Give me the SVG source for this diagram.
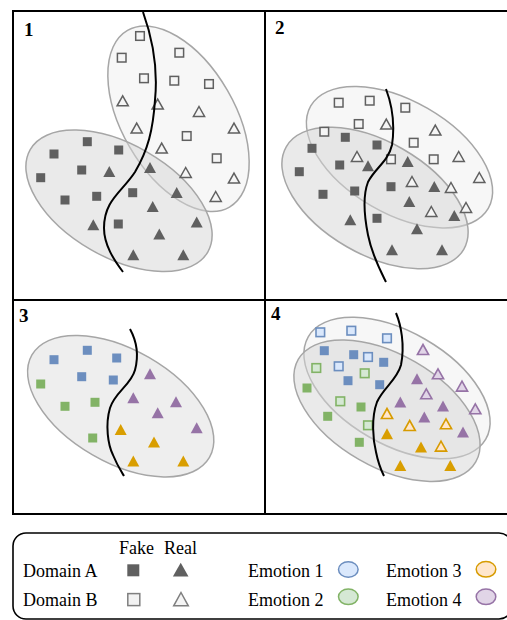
<svg xmlns="http://www.w3.org/2000/svg" xmlns:xlink="http://www.w3.org/1999/xlink" width="507" height="620" viewBox="0 0 507 620">
  <style>
    .frame { fill: none; stroke: #000; stroke-width: 2; }
    .cloudB { fill: #f7f7f7; stroke: #a6a6a6; stroke-width: 1.5; }
    .cloudA { fill: #d6d6d6; fill-opacity: 0.5; stroke: #a6a6a6; stroke-width: 1.5; }
    .cloud { fill: #eeeeee; stroke: #a6a6a6; stroke-width: 1.5; }
    .split { fill: none; stroke: #000; stroke-width: 2; }
    .lbl { font-family: "Liberation Serif", "Times New Roman", serif; font-size: 19px; font-weight: bold; fill: #000; }
    .txt { font-family: "Liberation Serif", "Times New Roman", serif; font-size: 18px; fill: #000; }
    .fA { fill: #606060; }
    .oB { fill: #f5f5f5; stroke: #606060; stroke-width: 1.5; }
    .f1 { fill: #6c8ebf; }
    .f2 { fill: #82b366; }
    .f3 { fill: #d99e00; }
    .f4 { fill: #9673a6; }
    .o1 { fill: #dae8fc; stroke: #6c8ebf; stroke-width: 1.6; }
    .o2 { fill: #d5e8d4; stroke: #82b366; stroke-width: 1.6; }
    .o3 { fill: #ffe6cc; stroke: #d79b00; stroke-width: 1.6; }
    .o4 { fill: #e1d5e7; stroke: #9673a6; stroke-width: 1.6; }
  </style>
  <defs>
    <rect id="sq" x="-4.5" y="-4.5" width="9" height="9"/>
    <rect id="osq" x="-4.3" y="-4.3" width="8.6" height="8.6"/>
    <path id="tri" d="M0,-5.8 L6,5.3 L-6,5.3 Z"/>
    <path id="otri" d="M0,-5.2 L5.6,4.8 L-5.6,4.8 Z"/>
  </defs>

  <rect width="507" height="620" fill="#fff"/>

  <!-- panel frames -->
  <g id="frames">
    <rect class="frame" x="13" y="11" width="497" height="503"/>
    <line class="frame" x1="265" y1="11" x2="265" y2="514"/>
    <line class="frame" x1="13" y1="300" x2="510" y2="300"/>
  </g>

  <!-- panel 1: two separated domains -->
  <g id="panel1">
    <text class="lbl" x="24" y="36">1</text>
    <ellipse class="cloudB" cx="178.5" cy="118.7" rx="102" ry="56.5" transform="rotate(60 178.5 118.7)"/>
    <ellipse class="cloudA" cx="119" cy="200.8" rx="102.5" ry="56.3" transform="rotate(30 119 200.8)"/>
    <g class="oB">
      <use xlink:href="#osq" x="140" y="36"/>
      <use xlink:href="#osq" x="121.7" y="57.7"/>
      <use xlink:href="#osq" x="179.3" y="52.7"/>
      <use xlink:href="#osq" x="144" y="78.3"/>
      <use xlink:href="#osq" x="174.3" y="80.7"/>
      <use xlink:href="#osq" x="209" y="84"/>
      <use xlink:href="#osq" x="186.7" y="136"/>
      <use xlink:href="#osq" x="216.7" y="158.3"/>
      <use xlink:href="#otri" x="122.7" y="101"/>
      <use xlink:href="#otri" x="157.7" y="104.3"/>
      <use xlink:href="#otri" x="199" y="111.7"/>
      <use xlink:href="#otri" x="234" y="128.3"/>
      <use xlink:href="#otri" x="136.7" y="128.3"/>
      <use xlink:href="#otri" x="161.7" y="148.3"/>
      <use xlink:href="#otri" x="185.7" y="172.7"/>
      <use xlink:href="#otri" x="234" y="178.3"/>
      <use xlink:href="#otri" x="215.7" y="196.7"/>
    </g>
    <g class="fA">
      <use xlink:href="#sq" x="87.3" y="141.7"/>
      <use xlink:href="#sq" x="54" y="154"/>
      <use xlink:href="#sq" x="118.7" y="150"/>
      <use xlink:href="#sq" x="81.7" y="170"/>
      <use xlink:href="#sq" x="40.7" y="177.7"/>
      <use xlink:href="#sq" x="65" y="200"/>
      <use xlink:href="#sq" x="96.7" y="196.3"/>
      <use xlink:href="#sq" x="132.7" y="192.7"/>
      <use xlink:href="#sq" x="118.3" y="224"/>
      <use xlink:href="#tri" x="109.3" y="171.7"/>
      <use xlink:href="#tri" x="150" y="167.7"/>
      <use xlink:href="#tri" x="176.7" y="192.7"/>
      <use xlink:href="#tri" x="152.7" y="206.7"/>
      <use xlink:href="#tri" x="196.7" y="222.3"/>
      <use xlink:href="#tri" x="93.3" y="225"/>
      <use xlink:href="#tri" x="159.3" y="234.3"/>
      <use xlink:href="#tri" x="133.3" y="255"/>
      <use xlink:href="#tri" x="183.3" y="255"/>
    </g>
  </g>

  <!-- panel 2: domains overlapping -->
  <g id="panel2">
    <text class="lbl" x="275" y="34">2</text>
    <ellipse class="cloudB" cx="399.5" cy="157.2" rx="102.5" ry="56.3" transform="rotate(30 399.5 157.2)"/>
    <ellipse class="cloudA" cx="375" cy="198" rx="102.5" ry="56.3" transform="rotate(30 375 198)"/>
    <g class="oB">
      <use xlink:href="#osq" x="338.7" y="102.7"/>
      <use xlink:href="#osq" x="369.7" y="100.7"/>
      <use xlink:href="#osq" x="405.3" y="107.7"/>
      <use xlink:href="#osq" x="358.7" y="124"/>
      <use xlink:href="#osq" x="324.3" y="131.7"/>
      <use xlink:href="#osq" x="413.7" y="142.7"/>
      <use xlink:href="#osq" x="391" y="159.3"/>
      <use xlink:href="#osq" x="433.7" y="159.3"/>
      <use xlink:href="#otri" x="386.3" y="124.3"/>
      <use xlink:href="#otri" x="435.3" y="130.3"/>
      <use xlink:href="#otri" x="357" y="156.7"/>
      <use xlink:href="#otri" x="458.7" y="156.7"/>
      <use xlink:href="#otri" x="412" y="181.7"/>
      <use xlink:href="#otri" x="451" y="187.7"/>
      <use xlink:href="#otri" x="479.3" y="177.7"/>
      <use xlink:href="#otri" x="431.3" y="211.7"/>
      <use xlink:href="#otri" x="466" y="207.7"/>
    </g>
    <g class="fA">
      <use xlink:href="#sq" x="345.3" y="137.3"/>
      <use xlink:href="#sq" x="312" y="148.3"/>
      <use xlink:href="#sq" x="377" y="145"/>
      <use xlink:href="#sq" x="339.7" y="165"/>
      <use xlink:href="#sq" x="299.3" y="171.7"/>
      <use xlink:href="#sq" x="323" y="194.3"/>
      <use xlink:href="#sq" x="354.7" y="191"/>
      <use xlink:href="#sq" x="391" y="186.7"/>
      <use xlink:href="#sq" x="377" y="218.3"/>
      <use xlink:href="#tri" x="368" y="166"/>
      <use xlink:href="#tri" x="407.7" y="161.7"/>
      <use xlink:href="#tri" x="434.3" y="186.7"/>
      <use xlink:href="#tri" x="409.3" y="201.7"/>
      <use xlink:href="#tri" x="454.3" y="215.7"/>
      <use xlink:href="#tri" x="350.3" y="220"/>
      <use xlink:href="#tri" x="417" y="229"/>
      <use xlink:href="#tri" x="392" y="250"/>
      <use xlink:href="#tri" x="442" y="250"/>
    </g>
  </g>

  <!-- panel 3: single domain, emotions -->
  <g id="panel3">
    <text class="lbl" x="19" y="322">3</text>
    <ellipse class="cloud" cx="120.7" cy="406.2" rx="102.5" ry="56.3" transform="rotate(30 120.7 406.2)"/>
    <g class="f1">
      <use xlink:href="#sq" x="54" y="359.7"/>
      <use xlink:href="#sq" x="87.3" y="350.3"/>
      <use xlink:href="#sq" x="116.7" y="358"/>
      <use xlink:href="#sq" x="81.7" y="376.7"/>
      <use xlink:href="#sq" x="113.3" y="380"/>
    </g>
    <g class="f2">
      <use xlink:href="#sq" x="40.7" y="384"/>
      <use xlink:href="#sq" x="65" y="406.3"/>
      <use xlink:href="#sq" x="95" y="402.3"/>
      <use xlink:href="#sq" x="92.7" y="438"/>
    </g>
    <g class="f4">
      <use xlink:href="#tri" x="150" y="374"/>
      <use xlink:href="#tri" x="133.3" y="398"/>
      <use xlink:href="#tri" x="176" y="402"/>
      <use xlink:href="#tri" x="157.7" y="413"/>
      <use xlink:href="#tri" x="196.7" y="428"/>
    </g>
    <g class="f3">
      <use xlink:href="#tri" x="120.7" y="429.7"/>
      <use xlink:href="#tri" x="154" y="442.3"/>
      <use xlink:href="#tri" x="133.3" y="461.3"/>
      <use xlink:href="#tri" x="183.3" y="461.3"/>
    </g>
  </g>

  <!-- panel 4: both domains, emotions -->
  <g id="panel4">
    <text class="lbl" x="271" y="320">4</text>
    <ellipse class="cloudB" cx="397" cy="388" rx="102.5" ry="56.3" transform="rotate(30 397 388)"/>
    <ellipse class="cloudA" cx="387" cy="410.7" rx="102.5" ry="56.3" transform="rotate(30 387 410.7)"/>
    <g class="o1">
      <use xlink:href="#osq" x="320.3" y="332.3"/>
      <use xlink:href="#osq" x="351.3" y="330.7"/>
      <use xlink:href="#osq" x="387" y="338.3"/>
      <use xlink:href="#osq" x="368" y="357"/>
      <use xlink:href="#osq" x="338.7" y="366.3"/>
    </g>
    <g class="f1">
      <use xlink:href="#sq" x="324.3" y="350.7"/>
      <use xlink:href="#sq" x="353.7" y="354.7"/>
      <use xlink:href="#sq" x="383.7" y="362.3"/>
      <use xlink:href="#sq" x="348" y="380.7"/>
      <use xlink:href="#sq" x="379.7" y="384.7"/>
    </g>
    <g class="o2">
      <use xlink:href="#osq" x="316.3" y="368"/>
      <use xlink:href="#osq" x="364.7" y="373.3"/>
      <use xlink:href="#osq" x="340.3" y="401.3"/>
      <use xlink:href="#osq" x="368" y="425.3"/>
    </g>
    <g class="f2">
      <use xlink:href="#sq" x="307" y="388"/>
      <use xlink:href="#sq" x="361" y="407"/>
      <use xlink:href="#sq" x="327.7" y="416.3"/>
      <use xlink:href="#sq" x="359.3" y="442.3"/>
    </g>
    <g class="o4">
      <use xlink:href="#otri" x="423" y="349.7"/>
      <use xlink:href="#otri" x="438" y="374"/>
      <use xlink:href="#otri" x="462" y="386.3"/>
      <use xlink:href="#otri" x="426.3" y="394"/>
      <use xlink:href="#otri" x="475.3" y="409"/>
    </g>
    <g class="f4">
      <use xlink:href="#tri" x="417" y="379"/>
      <use xlink:href="#tri" x="400.3" y="402.3"/>
      <use xlink:href="#tri" x="443" y="406.3"/>
      <use xlink:href="#tri" x="424.3" y="417.3"/>
      <use xlink:href="#tri" x="463" y="432.3"/>
    </g>
    <g class="o3">
      <use xlink:href="#otri" x="387" y="413.7"/>
      <use xlink:href="#otri" x="409.7" y="425.7"/>
      <use xlink:href="#otri" x="446" y="424"/>
      <use xlink:href="#otri" x="441" y="446.3"/>
    </g>
    <g class="f3">
      <use xlink:href="#tri" x="387" y="434"/>
      <use xlink:href="#tri" x="421" y="447.3"/>
      <use xlink:href="#tri" x="400.3" y="465.7"/>
      <use xlink:href="#tri" x="450.3" y="465.7"/>
    </g>
  </g>

  <!-- decision boundaries -->
  <g id="connectors">
    <path class="split" d="M143,12 C153,40 158,70 155,100 C153,130 148,150 135,172 C122,192 104,200 104,228 C104,245 114,260 123,272"/>
    <path class="split" d="M386,89 C392,105 395,125 392,145 C388,162 375,168 368,182 C363,195 364,215 368,235 C372,255 380,270 386,282"/>
    <path class="split" d="M130,329 C136,340 139,355 135,370 C131,385 115,392 110,408 C105,425 108,445 113,455 C117,465 121,471 124,476"/>
    <path class="split" d="M396,313 C401,325 405,345 401,365 C397,380 383,388 377,402 C371,418 373,440 376,452 C378,462 381,470 384,476"/>
  </g>

  <!-- legend -->
  <g id="legend">
    <rect x="13" y="533" width="499" height="86" rx="13" ry="13" fill="#fff" stroke="#000" stroke-width="1.6"/>
    <text class="txt" x="119" y="554">Fake</text>
    <text class="txt" x="164" y="554">Real</text>
    <text class="txt" x="23" y="577">Domain A</text>
    <text class="txt" x="23" y="606">Domain B</text>
    <rect x="127.3" y="564.3" width="12" height="12" fill="#606060"/>
    <path d="M180.7,562.7 L188.5,576.5 L172.9,576.5 Z" fill="#606060"/>
    <rect x="127.8" y="593.6" width="12" height="12" fill="#f2f2f2" stroke="#7f7f7f" stroke-width="1.5"/>
    <path d="M181,592.5 L188.3,605.8 L173.7,605.8 Z" fill="#f5f5f5" stroke="#7f7f7f" stroke-width="1.5"/>
    <text class="txt" x="248" y="577">Emotion 1</text>
    <text class="txt" x="248" y="606">Emotion 2</text>
    <text class="txt" x="386" y="577">Emotion 3</text>
    <text class="txt" x="386" y="606">Emotion 4</text>
    <ellipse cx="348.3" cy="569.5" rx="9.8" ry="7.8" fill="#dae8fc" stroke="#6c8ebf" stroke-width="1.5"/>
    <ellipse cx="348.3" cy="596.8" rx="9.8" ry="7.8" fill="#d5e8d4" stroke="#82b366" stroke-width="1.5"/>
    <ellipse cx="486" cy="569.3" rx="9.8" ry="7.8" fill="#ffe6cc" stroke="#d79b00" stroke-width="1.5"/>
    <ellipse cx="486" cy="596.8" rx="9.8" ry="7.8" fill="#e1d5e7" stroke="#9673a6" stroke-width="1.5"/>
  </g>
</svg>
